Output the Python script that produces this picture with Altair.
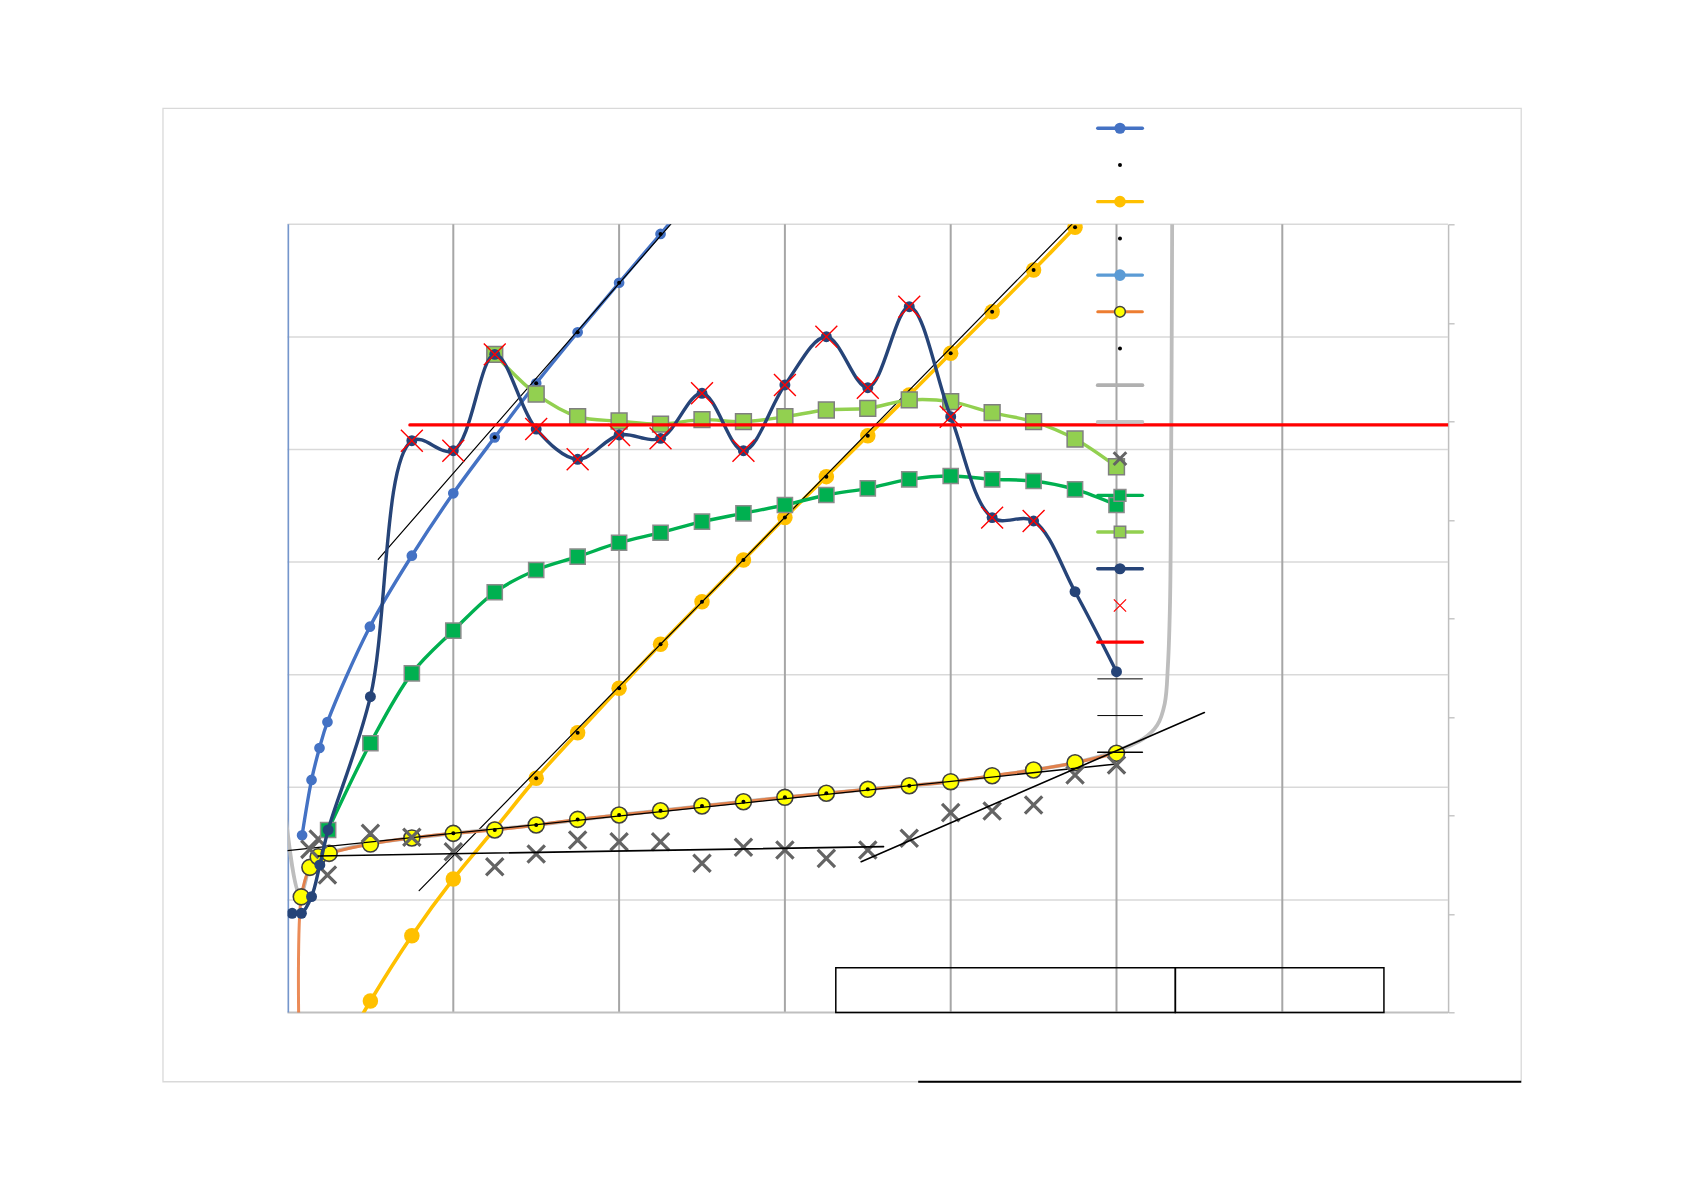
import altair as alt
import pandas as pd

# ---------------- data (plot units) ----------------
QX = [0.5, 0.75, 1.0, 1.25, 1.5, 1.75, 2.0, 2.25, 2.5, 2.75,
      3.0, 3.25, 3.5, 3.75, 4.0, 4.25, 4.5, 4.75, 5.0]

BLUE_X = [0.088, 0.145, 0.193, 0.241, 0.497, 0.75, 1.0, 1.25, 1.5, 1.75, 2.0, 2.25, 2.5]
BLUE_Y = [1.574, 2.065, 2.349, 2.580, 3.426, 4.057, 4.611, 5.108, 5.588, 6.041, 6.481, 6.914, 7.35]
BLUE_DOT_X = [1.25, 1.5, 1.75, 2.0, 2.25]
BLUE_DOT_Y = [5.108, 5.588, 6.041, 6.481, 6.914]
BLUE_TREND_X = [0.547, 2.40]
BLUE_TREND_Y = [4.025, 7.15]

GOLD_X = [0.25, 0.5, 0.75, 1.0, 1.25, 1.5, 1.75, 2.0, 2.25, 2.5, 2.75,
          3.0, 3.25, 3.5, 3.75, 4.0, 4.25, 4.5, 4.75]
GOLD_Y = [-0.55, 0.102, 0.682, 1.186, 1.630, 2.080, 2.485, 2.879, 3.270, 3.648,
          4.019, 4.395, 4.759, 5.123, 5.484, 5.854, 6.224, 6.594, 6.973]
GOLD_DOT_X = [1.5, 1.75, 2.0, 2.25, 2.5, 2.75, 3.0, 3.25, 3.5, 3.75, 4.0, 4.25, 4.5, 4.75]
GOLD_DOT_Y = [2.080, 2.485, 2.879, 3.270, 3.648, 4.019, 4.395, 4.759, 5.123, 5.484,
              5.854, 6.224, 6.594, 6.973]
GOLD_TREND_X = [0.794, 4.85]
GOLD_TREND_Y = [1.082, 7.18]

LBLUE_X = [0.0, 0.0]
LBLUE_Y = [0.0, 7.0]

ORANGE_X = [0.068, 0.083, 0.135, 0.185, 0.251] + QX
ORANGE_Y = [-0.10, 1.027, 1.289, 1.383, 1.413, 1.496, 1.550, 1.591, 1.621, 1.665,
            1.715, 1.754, 1.792, 1.834, 1.872, 1.911, 1.947, 1.982, 2.014, 2.050,
            2.103, 2.154, 2.218, 2.302]
YEL_DOT_X = [1.0, 1.25, 1.5, 1.75, 2.0, 2.25, 2.5, 2.75, 3.0, 3.25, 3.5, 3.75]
YEL_DOT_Y = [1.591, 1.621, 1.665, 1.715, 1.754, 1.792, 1.834, 1.872, 1.911, 1.947, 1.982, 2.014]
YEL_TREND_X = [0.0, 5.0]
YEL_TREND_Y = [1.437, 2.207]

GRAY_X = [-0.02, 0.075, 0.16, 0.25, 0.5, 1.0, 1.5, 2.0, 2.5, 3.0, 3.5, 4.0, 4.5,
          4.75, 4.986, 5.161, 5.246, 5.291, 5.31, 5.323, 5.329, 5.336]
GRAY_Y = [1.87, 1.04, 1.38, 1.42, 1.50, 1.59, 1.665, 1.754, 1.834, 1.911, 1.982,
          2.05, 2.154, 2.218, 2.315, 2.43, 2.553, 2.744, 3.078, 3.651, 4.70, 7.1]

GX_X = [0.135, 0.185, 0.241] + QX
GX_Y = [1.449, 1.540, 1.221, 1.591, 1.556, 1.428, 1.295, 1.408, 1.532, 1.517, 1.517,
        1.325, 1.467, 1.443, 1.369, 1.443, 1.547, 1.775, 1.790, 1.843, 2.109, 2.198]
XT1_X = [0.185, 3.595]
XT1_Y = [1.390, 1.473]
XT2_X = [3.46, 5.53]
XT2_Y = [1.339, 2.664]

GREEN_X = [0.245] + QX
GREEN_Y = [1.621, 2.391, 3.012, 3.391, 3.732, 3.930, 4.048, 4.172, 4.261, 4.359,
           4.433, 4.507, 4.596, 4.655, 4.735, 4.765, 4.735, 4.720, 4.646, 4.507]

LGREEN_X = [1.25, 1.5, 1.75, 2.0, 2.25, 2.5, 2.75, 3.0, 3.25, 3.5, 3.75, 4.0, 4.25, 4.5, 4.75, 5.0]
LGREEN_Y = [5.845, 5.493, 5.291, 5.253, 5.226, 5.265, 5.247, 5.291, 5.351, 5.366,
            5.440, 5.425, 5.327, 5.247, 5.093, 4.847]

DBLUE_X = [0.028, 0.084, 0.145, 0.195, 0.245] + QX
DBLUE_Y = [0.881, 0.881, 1.029, 1.310, 1.621, 2.805, 5.078, 4.989, 5.845, 5.182,
           4.913, 5.129, 5.099, 5.499, 4.989, 5.573, 6.002, 5.549, 6.268, 5.291,
           4.395, 4.365, 3.737, 3.027]
REDX_X = [0.75, 1.0, 1.25, 1.5, 1.75, 2.0, 2.25, 2.5, 2.75, 3.0, 3.25, 3.5, 3.75, 4.0, 4.25, 4.5]
REDX_Y = [5.078, 4.989, 5.845, 5.182, 4.913, 5.129, 5.099, 5.499, 4.989, 5.573,
          6.002, 5.549, 6.268, 5.291, 4.395, 4.365]

RED_LINE_X = [0.738, 7.0]
RED_LINE_Y = [5.218, 5.218]

GRID_X = [1, 2, 3, 4, 5, 6]
GRID_Y = [1, 2, 3, 4, 5, 6, 7]
RIGHT_TICKS = [0, 1, 2, 3, 4, 5, 6, 7, 8]

# ---------------- layout (plot units) ----------------
X0_PX, TOP_PX = 287.5, 224.3
UX, UY = 165.8, 112.6
W, H = 7 * UX, 7 * UY
FRAME = dict(x1=-0.751, x2=7.441, y1=-0.615, y2=8.030)
BOXES = [dict(x1=3.307, x2=5.355, y1=0.0, y2=0.398), dict(x1=5.355, x2=6.613, y1=0.0, y2=0.398)]
BOTTOM_LINE = dict(x1=3.804, x2=7.441, y=-0.615)
LEG_X0, LEG_X1, LEG_XC = 4.887, 5.156, 5.021
LW = 3.4  # main series line width


def leg_y(k):
    return 7.853 - 0.326 * k


XS = alt.Scale(domain=[0, 7], nice=False, zero=False)
YS = alt.Scale(domain=[0, 7], nice=False, zero=False)
XPATH = "M-1,-1L1,1M-1,1L1,-1"


def ex(f="x"):
    return alt.X(f"{f}:Q", scale=XS, axis=None)


def ey(f="y"):
    return alt.Y(f"{f}:Q", scale=YS, axis=None)


def frame(xs, ys):
    return pd.DataFrame({"x": xs, "y": ys, "i": list(range(len(xs)))})


def line(xs, ys, color, width, interp="linear", clip=True, opacity=1.0):
    kw = dict(color=color, strokeWidth=width, interpolate=interp, clip=clip,
              opacity=opacity, strokeCap="round", strokeJoin="round")
    return alt.Chart(frame(xs, ys)).mark_line(**kw).encode(x=ex(), y=ey(), order="i:Q")


def points(xs, ys, shape, size, color, stroke=None, sw=0.0, filled=True, clip=True):
    kw = dict(shape=shape, size=size, opacity=1, filled=filled, clip=clip)
    if filled:
        kw["fill"] = color
        if stroke:
            kw["stroke"] = stroke
            kw["strokeWidth"] = sw
        else:
            kw["strokeWidth"] = 0
    else:
        kw["stroke"] = color
        kw["strokeWidth"] = sw
    return alt.Chart(frame(xs, ys)).mark_point(**kw).encode(x=ex(), y=ey())


def rect(d, stroke, sw):
    df = pd.DataFrame([d])
    return alt.Chart(df).mark_rect(fill="white", fillOpacity=0, stroke=stroke,
                                   strokeWidth=sw, clip=False).encode(
        x=ex("x1"), x2="x2:Q", y=ey("y1"), y2="y2:Q")


layers = []

# outer chart frame
layers.append(rect(FRAME, "#D9D9D9", 1.3))
layers.append(alt.Chart(pd.DataFrame([BOTTOM_LINE])).mark_rule(color="black", strokeWidth=2, clip=False)
              .encode(x=ex("x1"), x2="x2:Q", y=ey("y")))

# gridlines
layers.append(alt.Chart(pd.DataFrame({"y": GRID_Y, "x1": [0] * len(GRID_Y), "x2": [7] * len(GRID_Y)}))
              .mark_rule(color="#D9D9D9", strokeWidth=1.5)
              .encode(x=ex("x1"), x2="x2:Q", y=ey("y")))
layers.append(alt.Chart(pd.DataFrame({"x": GRID_X, "y1": [0] * len(GRID_X), "y2": [7] * len(GRID_X)}))
              .mark_rule(color="#A6A6A6", strokeWidth=2)
              .encode(x=ex("x"), y=ey("y1"), y2="y2:Q"))
layers.append(alt.Chart(pd.DataFrame({"y": [0], "x1": [0], "x2": [7]}))
              .mark_rule(color="#BFBFBF", strokeWidth=2)
              .encode(x=ex("x1"), x2="x2:Q", y=ey("y")))

# right (secondary) axis: only the line and its ticks
right = alt.Chart(pd.DataFrame({"v": [0.0]})).mark_point(opacity=0).encode(
    y=alt.Y("v:Q", scale=alt.Scale(domain=[0, 8], nice=False, zero=False),
            axis=alt.Axis(orient="right", values=RIGHT_TICKS, labels=False, ticks=True, tickSize=6,
                          tickColor="#BFBFBF", tickWidth=1.3, domainColor="#BFBFBF", domainWidth=1.5,
                          grid=False, title=None)))
layers.append(right)

# series
layers.append(line(LBLUE_X, LBLUE_Y, "#7596CC", 3.3))
layers.append(line(BLUE_X, BLUE_Y, "#4472C4", LW, "catmull-rom"))
layers.append(points(BLUE_X, BLUE_Y, "circle", 115, "#4472C4"))
layers.append(points(BLUE_DOT_X, BLUE_DOT_Y, "circle", 16, "black"))
layers.append(line(BLUE_TREND_X, BLUE_TREND_Y, "black", 1.2))

layers.append(line(GOLD_X, GOLD_Y, "#FFC000", 3.6, "catmull-rom"))
layers.append(points(GOLD_X, GOLD_Y, "circle", 240, "#FFC000"))
layers.append(points(GOLD_DOT_X, GOLD_DOT_Y, "circle", 16, "black"))
layers.append(line(GOLD_TREND_X, GOLD_TREND_Y, "black", 1.2))

layers.append(line(GRAY_X, GRAY_Y, "#BDBDBD", 3.8, "catmull-rom"))
layers.append(line(ORANGE_X, ORANGE_Y, "#E8773A", 3.0, "catmull-rom", opacity=0.85))
layers.append(points(ORANGE_X[1:], ORANGE_Y[1:], "circle", 255, "#FFFF00", stroke="#404040", sw=1.6))
layers.append(points(YEL_DOT_X, YEL_DOT_Y, "circle", 16, "black"))
layers.append(line(YEL_TREND_X, YEL_TREND_Y, "black", 1.3))

layers.append(points(GX_X, GX_Y, XPATH, 300, "#646464", sw=3.2, filled=False))

layers.append(line(GREEN_X, GREEN_Y, "#00B050", LW, "catmull-rom"))
layers.append(points(GREEN_X, GREEN_Y, "square", 230, "#00B050", stroke="#8C8C8C", sw=1.5))
layers.append(line(LGREEN_X, LGREEN_Y, "#92D050", LW, "catmull-rom"))
layers.append(points(LGREEN_X, LGREEN_Y, "square", 250, "#92D050", stroke="#7F7F7F", sw=1.5))

layers.append(line(DBLUE_X, DBLUE_Y, "#264478", LW, "catmull-rom"))
layers.append(points(DBLUE_X, DBLUE_Y, "circle", 120, "#264478"))
layers.append(points(REDX_X, REDX_Y, XPATH, 480, "#FF0000", sw=1.4, filled=False))
layers.append(line(RED_LINE_X, RED_LINE_Y, "#FF0000", 3.2))

layers.append(line(XT1_X, XT1_Y, "black", 1.6))
layers.append(line(XT2_X, XT2_Y, "black", 1.6))

for b in BOXES:
    layers.append(rect(b, "black", 1.5))

# legend (no text in the original)
LEG_LINES = [(0, "#4472C4", LW), (2, "#FFC000", LW), (4, "#5B9BD5", LW), (5, "#ED7D31", 3),
             (7, "#B0B0B0", 3.8), (8, "#C4C4C4", 3.8), (10, "#00B050", LW), (11, "#92D050", LW),
             (12, "#264478", LW), (14, "#FF0000", 3.2), (15, "#000000", 1), (16, "#000000", 1),
             (17, "#000000", 1.6)]
leg_df = pd.DataFrame({"x1": [LEG_X0] * len(LEG_LINES), "x2": [LEG_X1] * len(LEG_LINES),
                       "y": [leg_y(k) for k, _, _ in LEG_LINES],
                       "c": [c for _, c, _ in LEG_LINES], "w": [w for _, _, w in LEG_LINES]})
layers.append(alt.Chart(leg_df).mark_rule(clip=False, strokeCap="round").encode(
    x=ex("x1"), x2="x2:Q", y=ey("y"),
    color=alt.Color("c:N", scale=None), strokeWidth=alt.StrokeWidth("w:Q", scale=None)))


def leg_pts(ks, shape, size, color, stroke=None, sw=0.0, filled=True):
    return points([LEG_XC] * len(ks), [leg_y(k) for k in ks], shape, size, color,
                  stroke=stroke, sw=sw, filled=filled, clip=False)


layers.append(leg_pts([0], "circle", 125, "#4472C4"))
layers.append(leg_pts([1, 3, 6], "circle", 16, "black"))
layers.append(leg_pts([2], "circle", 135, "#FFC000"))
layers.append(leg_pts([4], "circle", 135, "#5B9BD5"))
layers.append(leg_pts([5], "circle", 115, "#FFFF00", stroke="#404040", sw=1.5))
layers.append(leg_pts([9], XPATH, 160, "#646464", sw=3, filled=False))
layers.append(leg_pts([10], "square", 140, "#00B050", stroke="#8C8C8C", sw=1.5))
layers.append(leg_pts([11], "square", 130, "#92D050", stroke="#7F7F7F", sw=1.5))
layers.append(leg_pts([12], "circle", 125, "#264478"))
layers.append(leg_pts([13], XPATH, 150, "#FF0000", sw=1.2, filled=False))

chart = alt.layer(*layers).resolve_scale(y="independent").properties(
    width=W, height=H,
    autosize=alt.AutoSizeParams(type="none"),
    padding={"left": X0_PX - 8, "top": TOP_PX - 8, "right": 150, "bottom": 100},
    background="white",
).configure_view(stroke="transparent")

chart.save("out.html", embed_options={"renderer": "svg", "actions": False})
